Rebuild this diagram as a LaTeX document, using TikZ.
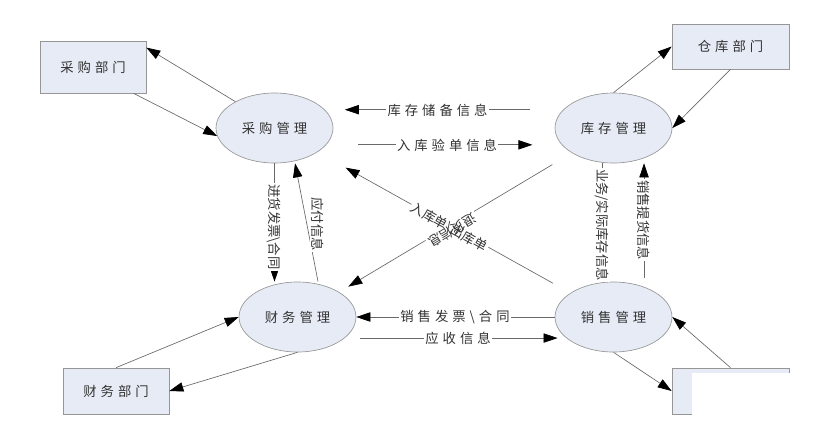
\documentclass[tikz,border=0pt]{standalone}
\usepackage{fontspec}
\setmainfont{Noto Sans CJK SC}
\newfontfamily\cjkwide[LetterSpace=30]{Noto Sans CJK SC}
\usetikzlibrary{shapes.geometric,arrows.meta}

\definecolor{boxfill}{RGB}{230,235,246}
\definecolor{edgegrey}{RGB}{150,150,150}
\definecolor{flowgrey}{RGB}{105,105,105}

\tikzset{every picture/.style={line width=0.75pt}}
\tikzset{
  proc/.style={ellipse, draw=edgegrey, fill=boxfill, line width=0.5pt, minimum width=87.75pt, minimum height=52.5pt, inner sep=0pt, text=black!80, font=\cjkwide\fontsize{10}{12}\selectfont},
  ent/.style={rectangle, draw=edgegrey, fill=boxfill, line width=0.5pt, inner sep=0pt, text=black!80, font=\cjkwide\fontsize{10}{12}\selectfont},
  flow/.style={draw=flowgrey, line width=0.5pt, -{Triangle[length=10.5pt,width=7pt,color=black]}},
  hlbl/.style={fill=white, inner sep=1pt, text=black!80, font=\cjkwide\fontsize{10}{12}\selectfont},
  vlbl/.style={fill=white, inner sep=1pt, text=black!80, font=\fontsize{10}{12}\selectfont},
  gap/.style={fill=white, inner sep=1pt, font=\fontsize{10}{12}\selectfont},
  xlbl/.style={inner sep=1pt, text=black!80, font=\fontsize{10}{12}\selectfont}
}

\begin{document}
\begin{tikzpicture}[x=0.75pt,y=0.75pt,yscale=-1,xscale=1]
\useasboundingbox (0,0) rectangle (832,433);

%Shape: Rectangle
\node[ent, minimum width=79.5pt, minimum height=39pt] (cgbm) at (93,67) {采购部门};
\node[ent, minimum width=87.75pt, minimum height=33.75pt] (ckbm) at (730.5,46.5) {仓库部门};
\node[ent, minimum width=79.5pt, minimum height=34.5pt] (cwbm) at (116,391) {财务部门};
\node[ent, minimum width=87.75pt, minimum height=34.5pt] (xsbm) at (730.5,391) {};
%covered part
\fill[white] (692,373) rectangle (792,417);

%Shape: Ellipse
\node[proc] (cggl) at (274.5,128) {采购管理};
\node[proc] (kcgl) at (613.5,128) {库存管理};
\node[proc] (cwgl) at (297.5,317) {财务管理};
\node[proc] (xsgl) at (613.5,317) {销售管理};

%Straight Lines
\draw[flow] (cggl.146) -- (cgbm.20);
\draw[flow] (cgbm.-33) -- (cggl.188);
\draw[flow] (kcgl.north) -- (ckbm.west);
\draw[flow] (ckbm.south) -- (kcgl.east);
\draw[flow] (cwbm.north) -- (cwgl.west);
\draw[flow] (cwgl.south) -- (cwbm.east);
\draw[flow] (xsgl.south) -- (xsbm.west);
\draw[flow] (xsbm.north) -- (xsgl.east);

\draw[flow, shorten <=25pt, shorten >=15pt] (kcgl.160) -- (cggl.20);
\draw[flow, shorten <=24pt, shorten >=22pt] (cggl.-18) -- (kcgl.198);
\draw[flow] (xsgl.west) -- (cwgl.east);
\draw[flow, shorten <=11.8pt, shorten >=6.5pt] (cwgl.-24) -- (xsgl.204);

\draw[flow] (cggl.south) -- (cggl.south |- cwgl.north);
\draw[flow] ([xshift=15.4pt]cwgl.north) -- ([xshift=15.4pt]cggl.south);
\draw[flow] ([xshift=-8.6pt]kcgl.south) -- ([xshift=-8.6pt]xsgl.north);
\draw[flow] ([xshift=22.9pt,yshift=-3pt]xsgl.north) -- ([xshift=22.9pt]kcgl.south);

\draw[flow, shorten <=15pt, shorten >=24pt] (xsgl) -- (cggl);
\draw[flow, shorten <=17pt, shorten >=8pt] (kcgl) -- (cwgl);

% Text Node
\node[hlbl] (kccb) at (437.5,110) {库存储备信息};
\node[hlbl] (rkyd) at (447,145) {入库验单信息};
\node[hlbl] (xsfp) at (455,317) {销售发票\textbackslash 合同};
\node[hlbl] (ysxx) at (458,338) {应收信息};

\node[vlbl, rotate=-90] (jhfp) at (274,227) {进货发票\textbackslash 合同};
\node[vlbl, rotate=-90] (yfxx) at (318,224) {应付信息};
\node[vlbl, rotate=-90] (ywsj) at (602,225) {业务/实际库存信息};
\node[vlbl, rotate=-90] (xsth) at (644,220) {销售提货信息};

\node[gap, rotate=-29] (gapa) at (449,227.5) {\phantom{入库单\textbackslash 出库单}};
\node[gap, rotate=211] (gapb) at (452.5,230.5) {\phantom{退货信息}};
\node[xlbl, rotate=-29] (rkck) at (449,227.5) {入库单\textbackslash 出库单};
\node[xlbl, rotate=211] (thxx) at (452.5,230.5) {退货信息};

\end{tikzpicture}
\end{document}
